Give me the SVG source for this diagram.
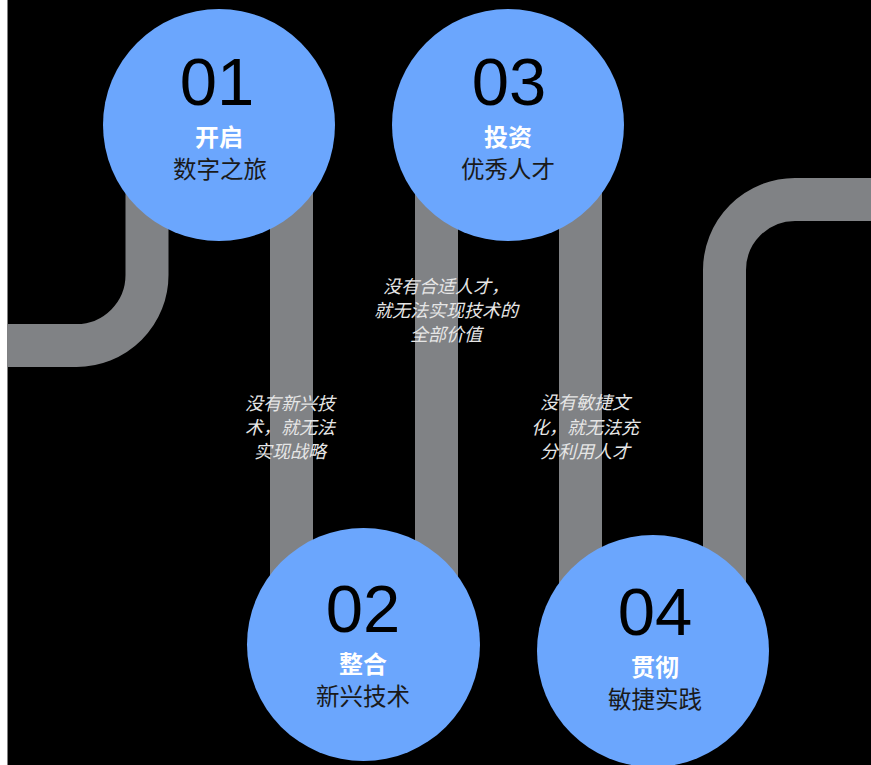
<svg xmlns="http://www.w3.org/2000/svg" width="871" height="765" viewBox="0 0 871 765">
<style>
.pipe{fill:none;stroke:#808285;stroke-width:43}
.circ{fill:#6ba6fd}
.num{font-family:"Liberation Sans",Arial,sans-serif;font-size:67px;fill:#000;text-anchor:middle}
.ttl{font-family:"Noto Sans CJK SC","Liberation Sans",sans-serif;font-size:24px;font-weight:bold;fill:#fff;text-anchor:middle}
.sub{font-family:"Noto Sans CJK SC","Liberation Sans",sans-serif;font-size:23.5px;fill:#1a1a1a;text-anchor:middle}
.note{font-family:"Noto Sans CJK SC","Liberation Sans",sans-serif;font-size:18px;font-style:italic;fill:#e6e6e6;text-anchor:middle}
</style>
<rect x="0" y="0" width="871" height="765" fill="#fff"/>
<rect x="7.5" y="0" width="863.5" height="765" fill="#000"/>
<g id="connectors">
<path class="pipe" d="M7.5 345.5 H76.5 A70.5 70.5 0 0 0 147 275 V170"/>
<path class="pipe" d="M291.5 180 V620"/>
<path class="pipe" d="M436.5 180 V620"/>
<path class="pipe" d="M580.5 180 V620"/>
<path class="pipe" d="M724.5 640 V270 A70.5 70.5 0 0 1 795 199.5 H871"/>
</g>
<g id="note1">
<text class="note" x="290" y="410">没有新兴技</text>
<text class="note" x="290" y="434">术，就无法</text>
<text class="note" x="290" y="458">实现战略</text>
</g>
<g id="note2">
<text class="note" x="446" y="293">没有合适人才，</text>
<text class="note" x="446" y="317">就无法实现技术的</text>
<text class="note" x="446" y="341">全部价值</text>
</g>
<g id="note3">
<text class="note" x="585" y="409">没有敏捷文</text>
<text class="note" x="585" y="434">化，就无法充</text>
<text class="note" x="585" y="458">分利用人才</text>
</g>
<g id="node01">
<circle class="circ" cx="219" cy="125" r="116"/>
<text class="num" x="217" y="105">01</text>
<text class="ttl" x="219" y="146">开启</text>
<text class="sub" x="220" y="178">数字之旅</text>
</g>
<g id="node02">
<circle class="circ" cx="363.5" cy="644.5" r="116.5"/>
<text class="num" x="363" y="632">02</text>
<text class="ttl" x="363" y="673">整合</text>
<text class="sub" x="363" y="705">新兴技术</text>
</g>
<g id="node03">
<circle class="circ" cx="508" cy="125" r="116"/>
<text class="num" x="509" y="105">03</text>
<text class="ttl" x="508" y="146">投资</text>
<text class="sub" x="508" y="178">优秀人才</text>
</g>
<g id="node04">
<circle class="circ" cx="653" cy="651" r="116"/>
<text class="num" x="655" y="635">04</text>
<text class="ttl" x="655" y="676">贯彻</text>
<text class="sub" x="655" y="708">敏捷实践</text>
</g>
</svg>
